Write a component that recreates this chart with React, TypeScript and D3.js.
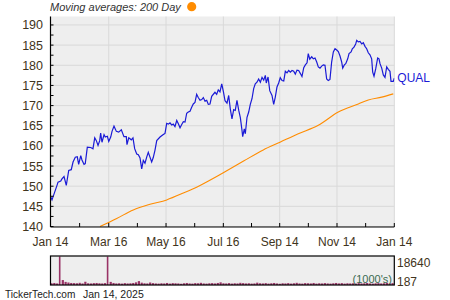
import React from "react";
import * as d3 from "d3";

const START = new Date(2024, 0, 14);
const END = new Date(2025, 0, 14);

// price: day offsets from Jan 14, 2024 and closing values
const priceDays = [0.2,1.6,7.2,8.0,10.9,12.2,14.4,16.8,19.4,22.1,24.0,26.4,28.5,30.0,32.2,33.5,35.7,37.0,39.2,42.8,45.2,47.1,48.8,50.6,52.4,53.4,54.8,57.0,58.3,60.5,62.0,64.1,65.5,67.6,70.1,72.6,75.4,78.2,80.7,81.4,83.3,86.0,87.8,89.6,91.8,93.5,95.3,97.1,98.8,100.6,102.4,104.1,105.9,107.7,109.4,111.2,113.1,116.6,120.1,121.9,123.7,125.4,127.2,129.0,130.7,132.5,134.4,136.1,137.9,139.7,141.4,143.2,145.0,146.7,148.5,150.3,152.0,153.8,155.6,157.3,159.2,161.0,162.7,164.5,166.3,168.0,169.8,171.6,175.1,176.9,178.6,180.4,182.3,184.1,185.8,187.9,189.7,191.4,193.2,195.0,196.7,198.5,200.4,202.1,203.9,204.6,206.3,207.4,209.2,211.0,212.7,214.5,216.3,218.0,219.8,221.6,223.4,225.2,227.0,228.7,229.7,231.6,233.4,235.8,237.6,239.3,241.1,242.9,244.6,246.5,248.3,250.0,251.8,253.6,255.3,257.1,258.9,260.6,262.4,264.2,265.9,267.7,269.6,271.3,273.1,274.4,276.0,278.1,279.8,281.6,283.4,285.1,286.9,288.7,290.4,292.2,294.0,295.7,297.5,299.3,301.1,302.9,304.7,306.4,308.2,310.0,311.1,312.8,314.3,316.4,317.8,320.0,321.3,323.1,324.9,326.0,327.7,329.5,331.3,333.0,334.8,336.6,338.3,340.1,341.9,343.0,344.4,346.2,348.3,349.7,350.8,352.6,354.3,356.1,357.9,359.6,361.4,362.5,364.9,366.0];
const priceValues = [147.4,146.6,150.4,151.0,151.3,151.8,152.4,150.2,153.9,154.1,156.0,157.2,157.3,155.4,157.6,156.5,155.4,155.6,159.7,159.6,159.3,162.0,161.3,160.1,161.3,163.2,160.9,162.8,162.2,162.4,161.1,162.2,163.6,164.9,163.6,163.4,164.0,162.3,162.3,160.3,162.0,161.5,162.0,159.3,158.0,157.8,157.0,154.3,156.4,155.7,157.2,158.4,157.2,156.0,157.1,158.9,161.3,162.2,162.8,163.1,165.6,165.4,165.7,165.2,165.4,164.8,166.3,165.5,164.5,165.3,166.0,165.9,168.1,168.4,168.6,169.6,170.4,170.8,172.8,172.0,171.3,171.5,172.0,171.1,171.3,170.3,170.4,172.3,173.3,172.8,173.9,173.4,175.4,173.4,171.2,170.6,172.5,169.2,166.7,169.0,168.8,171.3,168.8,167.0,163.8,162.3,164.2,163.0,167.1,168.4,170.3,171.7,174.2,175.4,175.8,176.6,175.8,177.0,176.3,177.5,175.6,177.1,173.7,172.5,170.3,172.1,174.6,175.6,176.9,176.2,176.1,178.5,178.1,178.7,178.3,178.7,178.5,177.8,178.8,178.7,178.0,177.2,179.4,180.1,180.6,182.9,181.5,182.1,181.6,181.8,180.8,179.6,179.3,179.8,180.1,180.0,176.6,176.2,176.5,180.8,183.3,184.1,183.8,183.4,182.3,180.8,179.3,180.1,180.4,181.6,182.9,183.3,184.1,184.5,185.3,186.2,185.8,185.9,185.3,185.6,184.7,184.1,183.1,182.6,181.6,178.3,177.3,179.1,181.8,181.6,180.4,179.3,177.6,177.0,179.6,179.0,178.5,176.0,176.0,176.8];

// 200 day moving average
const maDays = [52.7,70.5,88.1,105.9,123.7,141.4,159.2,176.9,185.8,206.0,226.5,244.3,263.8,285.1,306.4,327.7,338.3,352.6,364.9];
const maValues = [140.0,142.0,144.1,145.5,146.6,148.3,150.2,152.4,153.6,156.3,159.0,160.9,163.0,165.1,168.4,170.4,171.4,172.1,172.9];

// volume (1000's), one bar every 3 days starting Jan 15, 2024
const volumeValues = [1300,1500,1200,18640,3400,2200,1800,1500,1400,1300,1600,1200,2300,1300,1200,1400,1500,1300,1200,1400,18640,2200,1500,1200,1300,1100,1400,1200,1300,1500,1900,2700,1700,1300,1200,1800,1400,1200,1100,1300,1200,1500,1100,1400,1300,1200,1000,1300,1500,1200,1100,1400,1300,1600,1200,1100,1300,1400,1200,1500,1900,1300,1200,1400,1100,1300,1200,1600,1400,1200,1300,1100,1200,1700,1300,1200,1400,1100,1300,1500,1200,1000,1300,1200,1400,1100,1300,1600,1200,1100,1400,1300,1200,1500,1100,1300,1200,1400,1200,1100,1300,1500,1200,1400,1100,1300,1200,1300,1100,1400,1200,1300,1500,1200,1100,1300,1400,1200,1300,1600,1200,1400];

const yTicks = [140,145,150,155,160,165,170,175,180,185,190];
const yMinor = [142.5,147.5,152.5,157.5,162.5,167.5,172.5,177.5,182.5,187.5];
const xTickDates = [new Date(2024,0,14),new Date(2024,2,16),new Date(2024,4,16),new Date(2024,6,16),new Date(2024,8,14),new Date(2024,10,14),new Date(2025,0,14)];
const xTickLabels = ["Jan 14","Mar 16","May 16","Jul 16","Sep 14","Nov 14","Jan 14"];

const L = 50.5, R = 394.3, T = 16.5, B = 227;
const VT = 256, VB = 285;
const FONT = "Liberation Sans, Arial, sans-serif";
const TXT = "#3f3420";

export default function App() {
  const x = d3.scaleTime().domain([START, END]).range([L, R]);
  const y = d3.scaleLinear().domain([140, 192.1]).range([226.5, T]);
  const vy = d3.scaleLinear().domain([187, 18640]).range([VB, VT + 0.5]);
  const dayDate = (d: number) => new Date(START.getTime() + d * 86400000);

  const price = priceDays.map((d, i) => [dayDate(d), priceValues[i]] as [Date, number]);
  const ma = maDays.map((d, i) => [dayDate(d), maValues[i]] as [Date, number]);
  const line = d3.line<[Date, number]>().x(p => x(p[0])).y(p => y(p[1]));
  const maLine = d3.line<[Date, number]>().x(p => x(p[0])).y(p => y(p[1])).curve(d3.curveMonotoneX);

  const xs = xTickDates.map(d => x(d));
  const xMinor = xs.slice(1).map((v, i) => (v + xs[i]) / 2);

  return (
    <svg width={450} height={300} style={{ position: "absolute", left: 0, top: 0, background: "#fff" }}>
      <defs>
        <clipPath id="plot"><rect x={L} y={T} width={R - L} height={B - T} /></clipPath>
      </defs>
      <rect x={L} y={T} width={R - L} height={B - T} fill="#eeeeee" />
      {yTicks.map(v => (
        <line key={"g" + v} x1={L} x2={R} y1={y(v)} y2={y(v)} stroke="#d9d9d9" strokeWidth={1} />
      ))}
      {xs.map((v, i) => (
        <line key={"gx" + i} x1={v} x2={v} y1={T} y2={B} stroke="#d9d9d9" strokeWidth={1} />
      ))}
      <g clipPath="url(#plot)">
        <path d={maLine(ma) || ""} fill="none" stroke="#ff8c00" strokeWidth={1.1} />
        <path d={line(price) || ""} fill="none" stroke="#1a1ad6" strokeWidth={1.2} />
      </g>
      <line x1={L} x2={L} y1={T} y2={B} stroke="#000" strokeWidth={1.2} />
      <line x1={L} x2={R} y1={B} y2={B} stroke="#000" strokeWidth={1.2} />
      {yTicks.concat(yMinor).map(v => (
        <line key={"t" + v} x1={L} x2={L + 3} y1={y(v)} y2={y(v)} stroke="#000" />
      ))}
      {xs.concat(xMinor).map((v, i) => (
        <line key={"tx" + i} x1={v} x2={v} y1={B - 4} y2={B} stroke="#000" />
      ))}
      {yTicks.map(v => (
        <text key={"l" + v} x={43} y={y(v) + 4.5} textAnchor="end" fontFamily={FONT} fontSize={12.5} fill={TXT}>{v}</text>
      ))}
      {xTickLabels.map((s, i) => (
        <text key={"xl" + i} x={xs[i]} y={246} textAnchor="middle" fontFamily={FONT} fontSize={12} fill={TXT}>{s}</text>
      ))}
      <text x={R + 3} y={81.5} fontFamily={FONT} fontSize={12} fill="#1a1ad6">QUAL</text>
      <text x={50} y={11} fontFamily={FONT} fontSize={11} fontStyle="italic" fill="#333">Moving averages: 200 Day</text>
      <circle cx={191.7} cy={6.7} r={4.6} fill="#ff8c00" />

      <rect x={L} y={VT} width={R - L} height={VB - VT} fill="#eeeeee" />
      {volumeValues.map((v, i) => {
        const cx = x(dayDate(1 + i * 3));
        return <rect key={"v" + i} x={cx - 1} y={vy(v)} width={v > 10000 ? 1.6 : 2.2} height={VB - vy(v)} fill="#993366" />;
      })}
      <text x={392} y={283} textAnchor="end" fontFamily={FONT} fontSize={11} fill="#3a6a50">(1000's)</text>
      <rect x={L} y={VT} width={R - L} height={VB - VT} fill="none" stroke="#000" strokeWidth={1.2} />
      <text x={397} y={267} fontFamily={FONT} fontSize={12} fill={TXT}>18640</text>
      <text x={397} y={286} fontFamily={FONT} fontSize={12} fill={TXT}>187</text>
      <text x={5} y={298} fontFamily={FONT} fontSize={10.1} fill="#222">TickerTech.com</text>
      <text x={83} y={298} fontFamily={FONT} fontSize={10.5} fill="#222">Jan 14, 2025</text>
    </svg>
  );
}
